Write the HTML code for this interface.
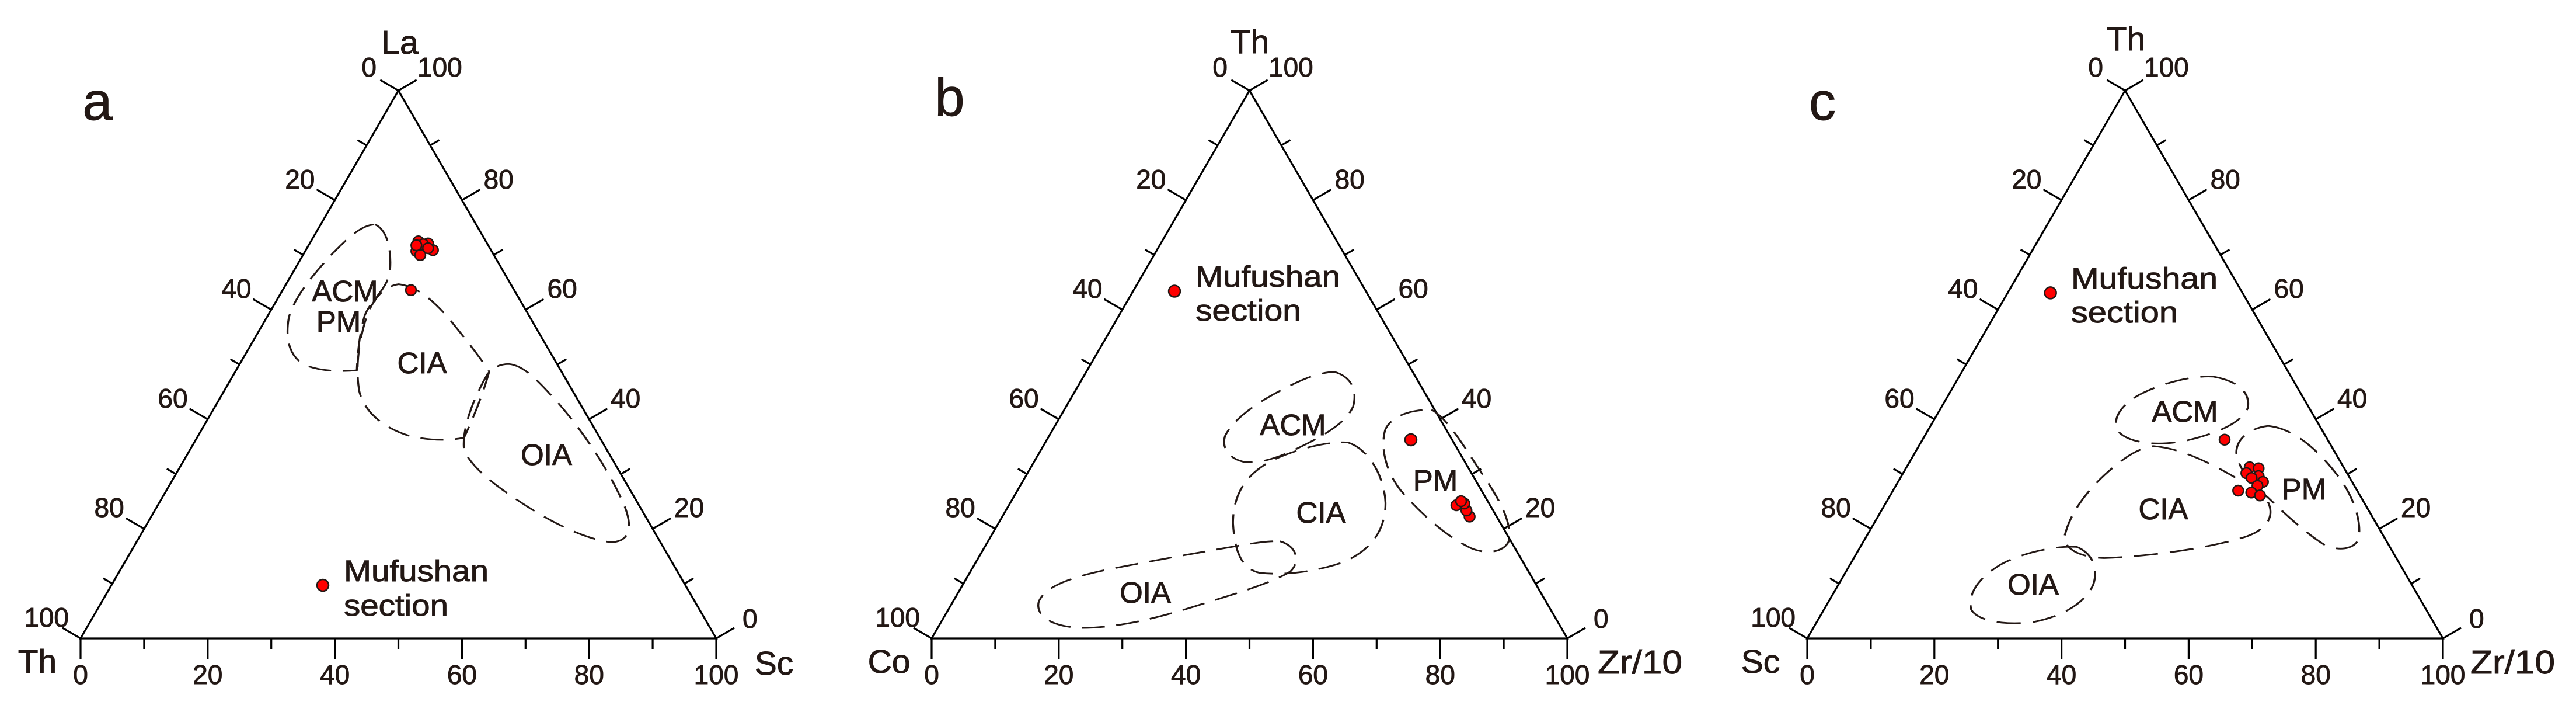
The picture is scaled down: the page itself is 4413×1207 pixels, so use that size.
<!DOCTYPE html>
<html><head><meta charset="utf-8"><style>
html,body{margin:0;padding:0;background:#fff;}
svg{display:block;}
text{font-family:"Liberation Sans",sans-serif;fill:#231815;stroke:#231815;stroke-width:0.9;}
.t{font-size:46px;}
.f{font-size:51px;}
.ax{font-size:57px;}
.lt{font-size:92px;}
.d{fill:none;stroke:#231815;stroke-width:3.7;stroke-dasharray:44 22;stroke-linejoin:round;}
.p{fill:#ff0000;stroke:#231815;stroke-width:2.5;}
</style></head><body>
<svg width="4413" height="1207" viewBox="0 0 4413 1207" xmlns="http://www.w3.org/2000/svg">
<defs>
<g id="frame" stroke="#000" stroke-width="3.2" fill="none">
  <path d="M0,0 L1089,0 L544.5,-938 Z" stroke-linejoin="miter"/>
  <path d="M0,0v36 M108.9,0v18 M217.8,0v36 M326.7,0v18 M435.6,0v36 M544.5,0v18 M653.4,0v36 M762.3,0v18 M871.2,0v36 M980.1,0v18 M1089,0v36"/>
  <g transform="rotate(-59.866)">
    <path d="M0,0v-36 M108.46,0v-18 M216.92,0v-36 M325.38,0v-18 M433.84,0v-36 M542.3,0v-18 M650.76,0v-36 M759.22,0v-18 M867.68,0v-36 M976.14,0v-18 M1084.6,0v-36"/>
  </g>
  <g transform="translate(1089,0) rotate(-120.134)">
    <path d="M0,0v36 M108.46,0v18 M216.92,0v36 M325.38,0v18 M433.84,0v36 M542.3,0v18 M650.76,0v36 M759.22,0v18 M867.68,0v36 M976.14,0v18 M1084.6,0v36"/>
  </g>
</g>
<g id="labels" class="t">
  <text x="-20" y="-20" text-anchor="end">100</text>
  <text x="74.7" y="-208" text-anchor="end">80</text>
  <text x="183.6" y="-395" text-anchor="end">60</text>
  <text x="292.5" y="-583" text-anchor="end">40</text>
  <text x="401.4" y="-770" text-anchor="end">20</text>
  <text x="507" y="-962" text-anchor="end">0</text>
  <text x="577" y="-962">100</text>
  <text x="690.6" y="-770">80</text>
  <text x="799.5" y="-583">60</text>
  <text x="908" y="-395">40</text>
  <text x="1017" y="-208">20</text>
  <text x="1134" y="-18">0</text>
  <text x="0" y="78" text-anchor="middle">0</text>
  <text x="217.8" y="78" text-anchor="middle">20</text>
  <text x="435.6" y="78" text-anchor="middle">40</text>
  <text x="653.4" y="78" text-anchor="middle">60</text>
  <text x="871.2" y="78" text-anchor="middle">80</text>
  <text x="1089" y="78" text-anchor="middle">100</text>
</g>
</defs>

<!-- Panel a -->
<g transform="translate(138,1093)"><use href="#frame"/><use href="#labels"/></g>
<text class="lt" x="167" y="205" text-anchor="middle">a</text>
<text class="ax" x="685" y="92" text-anchor="middle">La</text>
<text class="ax" x="64" y="1152" text-anchor="middle">Th</text>
<text class="ax" x="1326" y="1155" text-anchor="middle">Sc</text>
<g transform="matrix(0.8963,0,0,0.768,-2.7,2.7)">
  <path class="d" d="M720,497 C745,510 752,560 748,605 C740,645 712,665 700,700 C690,740 686,790 685,822 C660,825 620,825 590,812 C555,795 548,750 555,705 C565,660 600,610 640,560 C670,525 695,497 720,497 Z"/>
  <path class="d" d="M765,630 C800,635 830,665 860,705 C895,755 925,800 938,825 C925,880 905,935 890,972 C860,980 820,978 785,968 C735,950 700,915 690,870 C682,820 688,760 703,705 C715,665 735,635 765,630 Z"/>
  <path class="d" d="M975,808 C1005,810 1035,850 1070,895 C1115,955 1165,1040 1195,1120 C1215,1175 1205,1205 1170,1205 C1130,1200 1070,1170 1010,1125 C950,1080 905,1040 890,1000 C885,950 910,880 935,830 C945,815 960,808 975,808 Z"/>
</g>
<text class="f" x="591" y="516" text-anchor="middle">ACM</text>
<text class="f" x="580" y="568" text-anchor="middle">PM</text>
<text class="f" x="723" y="639" text-anchor="middle">CIA</text>
<text class="f" x="936" y="796" text-anchor="middle">OIA</text>
<text class="f" x="589" y="995" textLength="248" lengthAdjust="spacingAndGlyphs">Mufushan</text>
<text class="f" x="589" y="1054" textLength="179" lengthAdjust="spacingAndGlyphs">section</text>
<circle class="p" cx="553" cy="1002" r="10"/>
<circle class="p" cx="716.7" cy="413.3" r="9"/>
<circle class="p" cx="733.3" cy="416.7" r="9"/>
<circle class="p" cx="725" cy="418.3" r="9"/>
<circle class="p" cx="741.7" cy="428.3" r="9"/>
<circle class="p" cx="733.3" cy="425" r="9"/>
<circle class="p" cx="713.3" cy="430" r="9"/>
<circle class="p" cx="720" cy="436.7" r="9"/>
<circle class="p" cx="713.3" cy="420" r="9"/>
<circle class="p" cx="704" cy="496.7" r="9"/>

<!-- Panel b -->
<g transform="translate(1596,1093)"><use href="#frame"/><use href="#labels"/></g>
<text class="lt" x="1627" y="198" text-anchor="middle">b</text>
<text class="ax" x="2141" y="91" text-anchor="middle">Th</text>
<text class="ax" x="1523" y="1152" text-anchor="middle">Co</text>
<text class="ax" x="2737" y="1153" textLength="145" lengthAdjust="spacingAndGlyphs">Zr/10</text>
<g transform="matrix(0.8948,0,0,0.7689,1450.1,0.2)">
  <path class="d" d="M935,828 C968,840 978,870 970,905 C955,945 905,975 860,1000 C820,1022 790,1032 760,1028 C730,1020 718,995 725,970 C740,935 780,900 830,870 C870,845 905,828 935,828 Z"/>
  <path class="d" d="M960,985 C1000,1000 1030,1060 1032,1120 C1032,1180 1005,1225 950,1252 C900,1272 840,1282 790,1275 C755,1265 743,1225 740,1165 C740,1100 765,1055 815,1025 C860,1000 920,982 960,985 Z"/>
  <path class="d" d="M830,1205 C862,1215 870,1250 850,1272 C820,1295 750,1320 680,1345 C600,1375 520,1398 450,1398 C390,1395 362,1370 368,1340 C380,1305 430,1285 500,1268 C600,1245 700,1225 760,1213 C790,1207 812,1204 830,1205 Z"/>
  <path class="d" d="M1120,912 C1150,930 1180,990 1220,1060 C1255,1120 1275,1170 1268,1205 C1258,1230 1225,1235 1195,1220 C1150,1195 1100,1145 1060,1090 C1030,1045 1022,990 1032,955 C1045,925 1080,912 1120,912 Z"/>
</g>
<text class="f" x="2215" y="745" text-anchor="middle">ACM</text>
<text class="f" x="2263" y="895" text-anchor="middle">CIA</text>
<text class="f" x="1962" y="1032" text-anchor="middle">OIA</text>
<text class="f" x="2459" y="840" text-anchor="middle">PM</text>
<text class="f" x="2048" y="491" textLength="248" lengthAdjust="spacingAndGlyphs">Mufushan</text>
<text class="f" x="2048" y="549" textLength="181" lengthAdjust="spacingAndGlyphs">section</text>
<circle class="p" cx="2012" cy="498.5" r="10"/>
<circle class="p" cx="2417" cy="753" r="10"/>
<circle class="p" cx="2495" cy="865" r="9"/>
<circle class="p" cx="2517.6" cy="884.4" r="9"/>
<circle class="p" cx="2512.2" cy="874" r="9"/>
<circle class="p" cx="2508.6" cy="862" r="9"/>
<circle class="p" cx="2503" cy="858" r="9"/>

<!-- Panel c -->
<g transform="translate(3096,1093)"><use href="#frame"/><use href="#labels"/></g>
<text class="lt" x="3122" y="205" text-anchor="middle">c</text>
<text class="ax" x="3642" y="86" text-anchor="middle">Th</text>
<text class="ax" x="3016" y="1152" text-anchor="middle">Sc</text>
<text class="ax" x="4232" y="1153" textLength="145" lengthAdjust="spacingAndGlyphs">Zr/10</text>
<g transform="matrix(0.9364,0,0,0.767,2949,4.4)">
  <path class="d" d="M900,835 C945,845 968,870 963,905 C950,940 905,962 850,978 C800,990 750,985 728,960 C712,935 728,900 765,875 C805,850 860,832 900,835 Z"/>
  <path class="d" d="M790,990 C840,995 890,1025 940,1060 M1000,1115 C1012,1145 1000,1175 960,1192 C900,1215 800,1235 700,1240 C650,1238 625,1215 628,1190 C640,1130 680,1070 735,1020 C755,1002 775,992 790,990"/>
  <path class="d" d="M1000,945 C1045,950 1090,995 1130,1060 C1160,1110 1172,1165 1165,1200 C1155,1222 1125,1225 1100,1208 C1065,1180 1030,1140 1000,1105 C970,1075 945,1040 942,1005 C942,975 965,950 1000,945 Z"/>
  <path class="d" d="M650,1215 C680,1230 690,1265 680,1300 C665,1340 625,1370 570,1383 C520,1390 470,1382 457,1355 C450,1320 470,1285 510,1255 C550,1228 610,1212 650,1215 Z"/>
</g>
<text class="f" x="3743" y="722" text-anchor="middle">ACM</text>
<text class="f" x="3706" y="889" text-anchor="middle">CIA</text>
<text class="f" x="3483" y="1018" text-anchor="middle">OIA</text>
<text class="f" x="3947" y="855" text-anchor="middle">PM</text>
<text class="f" x="3548" y="494" textLength="251" lengthAdjust="spacingAndGlyphs">Mufushan</text>
<text class="f" x="3548" y="552" textLength="183" lengthAdjust="spacingAndGlyphs">section</text>
<circle class="p" cx="3512.7" cy="501.4" r="10"/>
<circle class="p" cx="3811" cy="752.7" r="9"/>
<circle class="p" cx="3854" cy="800" r="9"/>
<circle class="p" cx="3869.3" cy="801.7" r="9"/>
<circle class="p" cx="3848.3" cy="810" r="9"/>
<circle class="p" cx="3869.3" cy="815" r="9"/>
<circle class="p" cx="3857.3" cy="818.3" r="9"/>
<circle class="p" cx="3876.7" cy="825" r="9"/>
<circle class="p" cx="3867.3" cy="831.7" r="9"/>
<circle class="p" cx="3834.3" cy="840" r="9"/>
<circle class="p" cx="3856.7" cy="843.3" r="9"/>
<circle class="p" cx="3871.7" cy="848.3" r="9"/>
</svg>
</body></html>
